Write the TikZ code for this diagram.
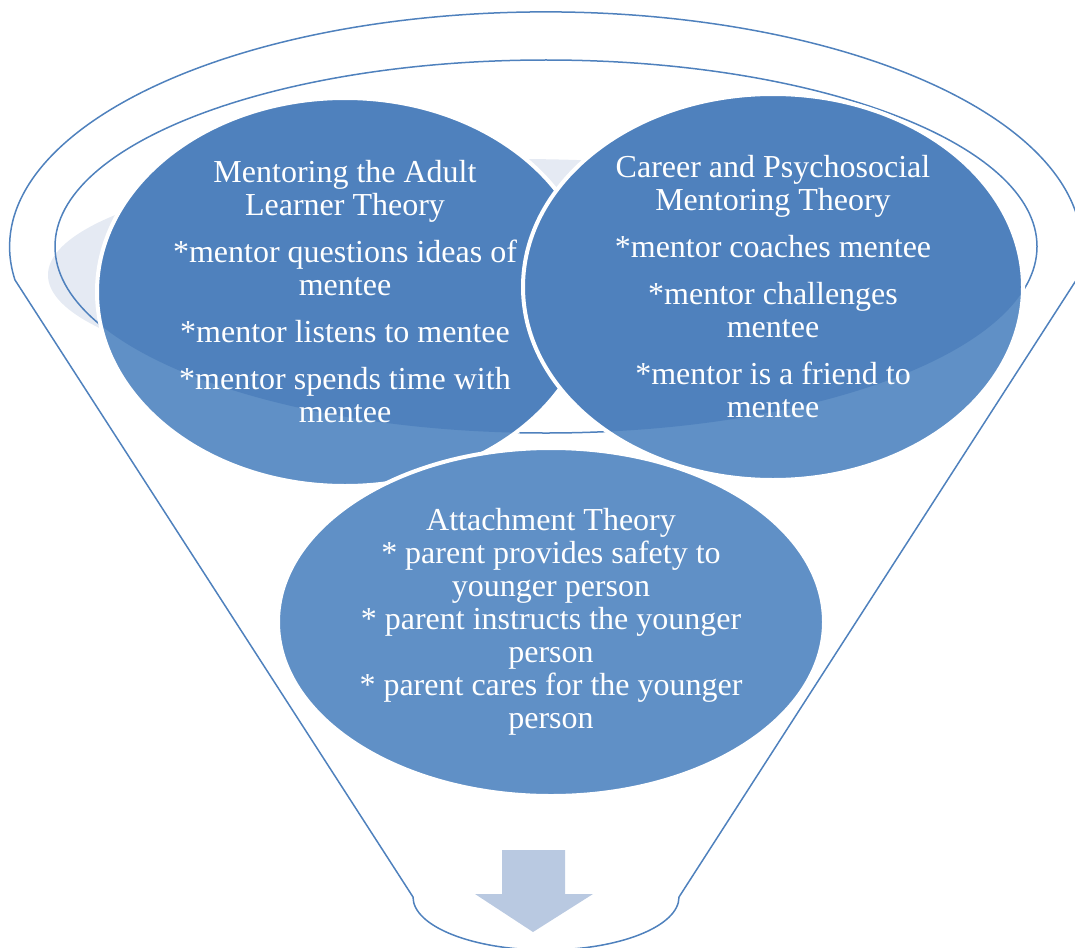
\documentclass[tikz,border=0pt]{standalone}
\usepackage{fontspec}
\setmainfont{Liberation Serif}
\usetikzlibrary{shapes.geometric}

\definecolor{funnelblue}{HTML}{4F81BD}
\definecolor{lowblue}{HTML}{6090C6}
\definecolor{paleblue}{HTML}{E5EAF3}
\definecolor{arrowblue}{HTML}{B9C9E1}

\begin{document}
\begin{tikzpicture}[x=1pt,y=-1pt,
		rimline/.style={draw=funnelblue, line width=1.5pt},
		theory/.style={ellipse, draw=white, line width=4pt, fill=lowblue,
			text=white, align=center, inner sep=0pt,
			font=\fontsize{32}{33}\selectfont,
			path picture={\fill[funnelblue] (rimc) ellipse [x radius=491, y radius=186.5];}}]
		
		\useasboundingbox (0,0) rectangle (1075,947);
		
		% Funnel outline
		\draw[rimline] (413,897) -- (15,280)
			arc [start angle=171.9, end angle=368.1, x radius=536, y radius=235]
			-- (679,897)
			arc [start angle=0, end angle=180, x radius=133, y radius=53] -- cycle;
		
		% Pale band and inner rim
		\fill[paleblue] (515,275) ellipse [x radius=467, y radius=116];
		\coordinate (rimc) at (546,246.5);
		\draw[rimline] (rimc) ellipse [x radius=491, y radius=186.5];
		
		% The three theories
		\node[theory, minimum width=496pt, minimum height=388pt] (adult) at (345,292)
			{Mentoring the Adult\\Learner Theory\\[14pt]{}*mentor questions ideas of\\mentee\\[14pt]{}*mentor listens to mentee\\[14pt]{}*mentor spends time with\\mentee};
		\node[theory, minimum width=500pt, minimum height=386pt] (career) at (773,287)
			{Career and Psychosocial\\Mentoring Theory\\[14pt]{}*mentor coaches mentee\\[14pt]{}*mentor challenges\\mentee\\[14pt]{}*mentor is a friend to\\mentee};
		\node[theory, minimum width=546pt, minimum height=348pt] (attach) at (551,622)
			{Attachment Theory\\{}* parent provides safety to\\younger person\\{}* parent instructs the younger\\person\\{}* parent cares for the younger\\person};
		
		% Arrow out of the funnel
		\fill[arrowblue] (502,850) -- (565,850) -- (565,894) -- (593,894)
			-- (533,932) -- (475,894) -- (502,894) -- cycle;
		
	\end{tikzpicture}
\end{document}
